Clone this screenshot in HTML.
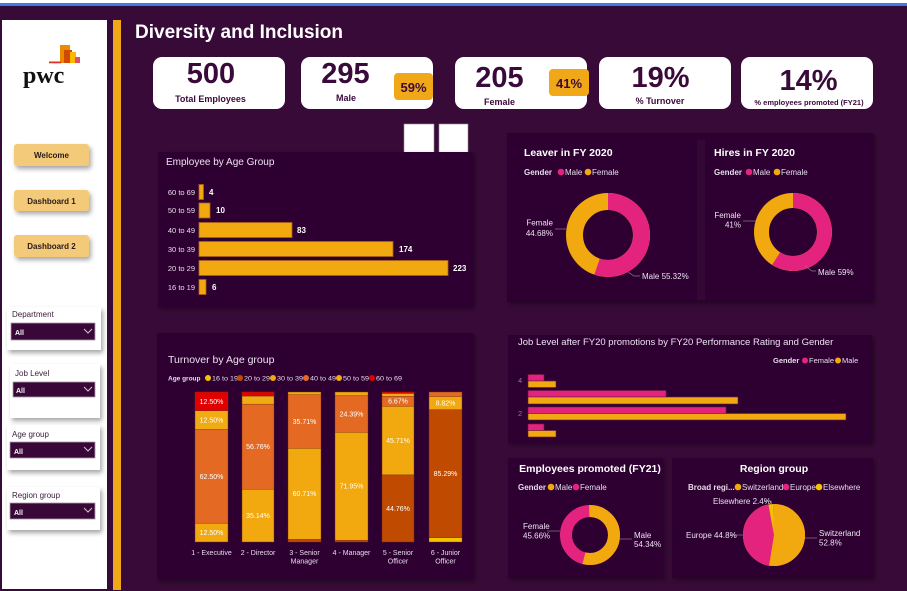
<!DOCTYPE html>
<html><head><meta charset="utf-8"><style>
html,body{margin:0;padding:0;background:#380a37;}
svg{display:block;font-family:"Liberation Sans",sans-serif;}
</style></head><body>
<svg width="907" height="591" viewBox="0 0 907 591" xmlns="http://www.w3.org/2000/svg">
<defs>
<filter id="sh" x="-20%" y="-20%" width="150%" height="160%"><feDropShadow dx="2" dy="3" stdDeviation="2.5" flood-color="#000" flood-opacity="0.35"/></filter>
<filter id="sh2" x="-10%" y="-10%" width="130%" height="130%"><feDropShadow dx="2" dy="2" stdDeviation="2" flood-color="#000" flood-opacity="0.4"/></filter>
</defs>
<rect x="0" y="0" width="907" height="591" fill="#380a37"/>
<rect x="0" y="0" width="907" height="3" fill="#ffffff"/>
<rect x="0" y="3" width="907" height="3" fill="#3b7ddd"/>

<!-- sidebar -->
<rect x="2" y="20" width="105" height="569" fill="#ffffff"/>
<rect x="113" y="20" width="8" height="570" fill="#f0a818"/>
<!-- logo -->
<rect x="60" y="45" width="10" height="18" fill="#eb8c00"/>
<rect x="64" y="50" width="8" height="13" fill="#d04a02"/>
<rect x="70" y="52" width="6" height="11" fill="#ffb600"/>
<rect x="75" y="57" width="5" height="6" fill="#db536a"/>
<rect x="49" y="61.5" width="12" height="1.8" fill="#e0301e"/>
<text x="23" y="83" font-family="'Liberation Serif',serif" font-weight="bold" font-size="24" fill="#111">pwc</text>

<!-- buttons -->
<g filter="url(#sh)">
<rect x="14" y="144" width="75" height="22" rx="3" fill="#f3c97a"/>
<rect x="14" y="190" width="75" height="21" rx="3" fill="#f3c97a"/>
<rect x="14" y="235" width="75" height="22" rx="3" fill="#f3c97a"/>
</g>
<g font-weight="bold" font-size="8" fill="#2a1a1a" text-anchor="middle">
<text x="51.5" y="158">Welcome</text>
<text x="51.5" y="204">Dashboard 1</text>
<text x="51.5" y="249">Dashboard 2</text>
</g>

<!-- filters -->
<g filter="url(#sh)">
<rect x="7" y="307" width="94" height="43" fill="#fff"/>
<rect x="10" y="364" width="90" height="54" fill="#fff"/>
<rect x="7" y="425" width="93" height="45" fill="#fff"/>
<rect x="7" y="487" width="93" height="43" fill="#fff"/>
</g>
<g font-size="8" fill="#3a1a3a">
<text x="12" y="317">Department</text>
<text x="15" y="376">Job Level</text>
<text x="12" y="437">Age group</text>
<text x="12" y="498">Region group</text>
</g>
<g fill="#3a0838" stroke="#a89aa8" stroke-width="0.8">
<rect x="11" y="323" width="84" height="17"/>
<rect x="13" y="382" width="82" height="15"/>
<rect x="10" y="442" width="85" height="16"/>
<rect x="10" y="503" width="85" height="16"/>
</g>
<g font-size="7" font-weight="bold" fill="#fff">
<text x="15" y="335">All</text>
<text x="16" y="393">All</text>
<text x="14" y="454">All</text>
<text x="14" y="515">All</text>
</g>
<g fill="none" stroke="#cfc3cf" stroke-width="1">
<polyline points="84,329 88,333 92,329"/>
<polyline points="84,387 88,391 92,387"/>
<polyline points="84,447 88,451 92,447"/>
<polyline points="84,508 88,512 92,508"/>
</g>

<!-- title -->
<text x="135" y="38" font-weight="bold" font-size="19" fill="#ffffff">Diversity and Inclusion</text>

<!-- KPI cards -->
<g fill="#ffffff">
<rect x="153" y="57" width="132" height="52" rx="9"/>
<rect x="301" y="57" width="132" height="52" rx="9"/>
<rect x="455" y="57" width="132" height="52" rx="9"/>
<rect x="599" y="57" width="132" height="52" rx="9"/>
<rect x="741" y="57" width="132" height="52" rx="9"/>
</g>
<rect x="394" y="73" width="39" height="27" rx="4" fill="#f0a818"/>
<rect x="549" y="69" width="40" height="27" rx="4" fill="#f0a818"/>
<g font-weight="bold" fill="#3a0a3a">
<text x="211" y="83" font-size="29" text-anchor="middle">500</text>
<text x="345.5" y="83" font-size="29" text-anchor="middle">295</text>
<text x="499.5" y="87" font-size="29" text-anchor="middle">205</text>
<text x="660.5" y="87" font-size="29" text-anchor="middle">19%</text>
<text x="808.5" y="90" font-size="29" text-anchor="middle">14%</text>
<text x="210.5" y="102" font-size="9" text-anchor="middle">Total Employees</text>
<text x="346" y="101" font-size="9" text-anchor="middle">Male</text>
<text x="499.5" y="105" font-size="9" text-anchor="middle">Female</text>
<text x="660" y="104" font-size="9" text-anchor="middle">% Turnover</text>
<text x="809" y="105" font-size="7.5" text-anchor="middle">% employees promoted (FY21)</text>
<text x="413.5" y="92" font-size="13" text-anchor="middle">59%</text>
<text x="569" y="88" font-size="13" text-anchor="middle">41%</text>
</g>

<!-- white squares -->
<rect x="404" y="124" width="30" height="29" fill="#fff" stroke="#9a8a9a" stroke-width="0.6"/>
<rect x="439" y="124" width="29" height="29" fill="#fff" stroke="#9a8a9a" stroke-width="0.6"/>

<!-- panels -->
<g fill="#2d0530" filter="url(#sh2)">
<rect x="158" y="152" width="315" height="155"/>
<rect x="507" y="133" width="366" height="169"/>
<rect x="157" y="333" width="316" height="247"/>
<rect x="508" y="335" width="364" height="108"/>
<rect x="508" y="458" width="155" height="120"/>
<rect x="672" y="458" width="201" height="120"/>
</g>
<rect x="697" y="140" width="8" height="160" fill="#330834"/>

<!-- Employee by Age Group -->
<text x="166" y="165" font-size="10" fill="#ece2ef">Employee by Age Group</text>
<g font-size="7.5" fill="#e6dcea" text-anchor="end">
<text x="195" y="195">60 to 69</text>
<text x="195" y="213">50 to 59</text>
<text x="195" y="233">40 to 49</text>
<text x="195" y="252">30 to 39</text>
<text x="195" y="271">20 to 29</text>
<text x="195" y="290">16 to 19</text>
</g>
<g fill="#f2a90f" stroke="#a8601a" stroke-width="0.8">
<rect x="199" y="184.5" width="4.5" height="15"/>
<rect x="199" y="203" width="11" height="15"/>
<rect x="199" y="222.5" width="93" height="15"/>
<rect x="199" y="241.5" width="194" height="15"/>
<rect x="199" y="260.5" width="249" height="15"/>
<rect x="199" y="279.5" width="7" height="15"/>
</g>
<g font-size="8" font-weight="bold" fill="#fff">
<text x="209" y="195">4</text>
<text x="216" y="213">10</text>
<text x="297" y="233">83</text>
<text x="399" y="252">174</text>
<text x="453" y="271">223</text>
<text x="212" y="290">6</text>
</g>

<!-- Leaver / Hires -->
<g font-weight="bold" font-size="10.5" fill="#fff">
<text x="524" y="156">Leaver in FY 2020</text>
<text x="714" y="156">Hires in FY 2020</text>
</g>
<g font-size="8" fill="#e6dcea">
<text x="524" y="175" font-weight="bold">Gender</text>
<circle cx="561" cy="172" r="3.3" fill="#e4237f"/><text x="565" y="175">Male</text>
<circle cx="588" cy="172" r="3.3" fill="#f2a90f"/><text x="592" y="175">Female</text>
<text x="714" y="175" font-weight="bold">Gender</text>
<circle cx="749" cy="172" r="3.3" fill="#e4237f"/><text x="753" y="175">Male</text>
<circle cx="777" cy="172" r="3.3" fill="#f2a90f"/><text x="781" y="175">Female</text>
</g>
<circle cx="608" cy="235" r="33.5" fill="none" stroke="#f2a90f" stroke-width="17"/>
<circle cx="608" cy="235" r="33.5" fill="none" stroke="#e4237f" stroke-width="17" pathLength="100" stroke-dasharray="55.32 44.68" transform="rotate(-90 608 235)"/>
<circle cx="793" cy="232" r="31.5" fill="none" stroke="#f2a90f" stroke-width="15"/>
<circle cx="793" cy="232" r="31.5" fill="none" stroke="#e4237f" stroke-width="15" pathLength="100" stroke-dasharray="59 41" transform="rotate(-90 793 232)"/>
<g stroke="#8a7a8a" stroke-width="0.7" fill="none">
<polyline points="555,229 566,229"/>
<polyline points="628,272 634,276 640,276"/>
<polyline points="743,221 756,221"/>
<polyline points="805,266 812,271 816,271"/>
</g>
<g font-size="8" fill="#ece2ef">
<text x="553" y="225.5" text-anchor="end">Female</text>
<text x="553" y="236" text-anchor="end">44.68%</text>
<text x="642" y="279">Male 55.32%</text>
<text x="741" y="218" text-anchor="end">Female</text>
<text x="741" y="227.5" text-anchor="end">41%</text>
<text x="818" y="275">Male 59%</text>
</g>

<!-- Turnover by Age group -->
<text x="168" y="363" font-size="10.5" fill="#ece2ef">Turnover by Age group</text>
<g font-size="6.5" fill="#e6dcea">
<text x="168" y="380.5" font-weight="bold">Age group</text>
<circle cx="208" cy="378" r="3" fill="#f5c400"/><text x="212" y="380.5" textLength="26" lengthAdjust="spacingAndGlyphs">16 to 19</text>
<circle cx="240" cy="378" r="3" fill="#c04a00"/><text x="244" y="380.5" textLength="26" lengthAdjust="spacingAndGlyphs">20 to 29</text>
<circle cx="273" cy="378" r="3" fill="#f2a90f"/><text x="277" y="380.5" textLength="26" lengthAdjust="spacingAndGlyphs">30 to 39</text>
<circle cx="306" cy="378" r="3" fill="#e46a24"/><text x="310" y="380.5" textLength="26" lengthAdjust="spacingAndGlyphs">40 to 49</text>
<circle cx="339" cy="378" r="3" fill="#f0aa12"/><text x="343" y="380.5" textLength="26" lengthAdjust="spacingAndGlyphs">50 to 59</text>
<circle cx="372" cy="378" r="3" fill="#e00000"/><text x="376" y="380.5" textLength="26" lengthAdjust="spacingAndGlyphs">60 to 69</text>
</g>
<g stroke="#7a3010" stroke-width="0.4">
<!-- Executive -->
<rect x="195" y="523.25" width="33" height="18.75" fill="#f2a90f"/>
<rect x="195" y="429.5" width="33" height="93.75" fill="#e46a24"/>
<rect x="195" y="410.75" width="33" height="18.75" fill="#f0aa12"/>
<rect x="195" y="392" width="33" height="18.75" fill="#e00000"/>
<!-- Director -->
<rect x="242" y="489.29" width="32" height="52.71" fill="#f2a90f"/>
<rect x="242" y="404.15" width="32" height="85.14" fill="#e46a24"/>
<rect x="242" y="396.05" width="32" height="8.1" fill="#f0aa12"/>
<rect x="242" y="392" width="32" height="4.05" fill="#e00000"/>
<!-- Senior Manager -->
<rect x="288" y="539.32" width="33" height="2.68" fill="#c04a00"/>
<rect x="288" y="448.25" width="33" height="91.07" fill="#f2a90f"/>
<rect x="288" y="394.68" width="33" height="53.57" fill="#e46a24"/>
<rect x="288" y="392" width="33" height="2.68" fill="#f0aa12"/>
<!-- Manager -->
<rect x="335" y="540.17" width="33" height="1.83" fill="#c04a00"/>
<rect x="335" y="432.24" width="33" height="107.93" fill="#f2a90f"/>
<rect x="335" y="395.65" width="33" height="36.59" fill="#e46a24"/>
<rect x="335" y="392" width="33" height="3.65" fill="#f0aa12"/>
<!-- Senior Officer -->
<rect x="382" y="474.86" width="32" height="67.14" fill="#c04a00"/>
<rect x="382" y="406.29" width="32" height="68.57" fill="#f2a90f"/>
<rect x="382" y="396.29" width="32" height="10" fill="#e46a24"/>
<rect x="382" y="393.43" width="32" height="2.86" fill="#f0aa12"/>
<rect x="382" y="392" width="32" height="1.43" fill="#e00000"/>
<!-- Junior Officer -->
<rect x="429" y="537.59" width="33" height="4.41" fill="#f5c400"/>
<rect x="429" y="409.65" width="33" height="127.94" fill="#c04a00"/>
<rect x="429" y="396.42" width="33" height="13.23" fill="#f2a90f"/>
<rect x="429" y="392" width="33" height="4.42" fill="#e46a24"/>
</g>
<g font-size="7" fill="#fff" text-anchor="middle">
<text x="211.5" y="403.8">12.50%</text>
<text x="211.5" y="422.5">12.50%</text>
<text x="211.5" y="478.8">62.50%</text>
<text x="211.5" y="535">12.50%</text>
<text x="258" y="449">56.76%</text>
<text x="258" y="518">35.14%</text>
<text x="304.5" y="424">35.71%</text>
<text x="304.5" y="496">60.71%</text>
<text x="351.5" y="416.3">24.39%</text>
<text x="351.5" y="488.6">71.95%</text>
<text x="398" y="403.7">6.67%</text>
<text x="398" y="443">45.71%</text>
<text x="398" y="510.8">44.76%</text>
<text x="445.5" y="405.5">8.82%</text>
<text x="445.5" y="476">85.29%</text>
</g>
<g font-size="7" fill="#e6dcea" text-anchor="middle">
<text x="211.5" y="555">1 - Executive</text>
<text x="258" y="555">2 - Director</text>
<text x="304.5" y="555">3 - Senior</text>
<text x="304.5" y="563.5">Manager</text>
<text x="351.5" y="555">4 - Manager</text>
<text x="398" y="555">5 - Senior</text>
<text x="398" y="563.5">Officer</text>
<text x="445.5" y="555">6 - Junior</text>
<text x="445.5" y="563.5">Officer</text>
</g>

<!-- Job level -->
<text x="518" y="345" font-size="9.5" fill="#ece2ef">Job Level after FY20 promotions by FY20 Performance Rating and Gender</text>
<g font-size="7.5" fill="#e6dcea">
<text x="773" y="363" font-weight="bold">Gender</text>
<circle cx="805" cy="360.5" r="3" fill="#e4237f"/><text x="809" y="363">Female</text>
<circle cx="838" cy="360.5" r="3" fill="#f2a90f"/><text x="842" y="363">Male</text>
</g>
<g font-size="7.5" fill="#8a7a8a">
<text x="518" y="383">4</text>
<text x="518" y="416">2</text>
</g>
<g stroke="#6a1a3a" stroke-width="0.6">
<rect x="528" y="374.5" width="16" height="6.5" fill="#e4237f"/>
<rect x="528" y="381" width="28" height="6.5" fill="#f2a90f"/>
<rect x="528" y="390.5" width="138" height="6.5" fill="#e4237f"/>
<rect x="528" y="397" width="210" height="7" fill="#f2a90f"/>
<rect x="528" y="407" width="198" height="6.5" fill="#e4237f"/>
<rect x="528" y="413.5" width="318" height="6.5" fill="#f2a90f"/>
<rect x="528" y="424" width="16" height="6.5" fill="#e4237f"/>
<rect x="528" y="430.5" width="28" height="6.5" fill="#f2a90f"/>
</g>

<!-- Employees promoted -->
<text x="590" y="472" font-size="10.5" font-weight="bold" fill="#fff" text-anchor="middle">Employees promoted (FY21)</text>
<g font-size="8" fill="#e6dcea">
<text x="518" y="490" font-weight="bold">Gender</text>
<circle cx="551" cy="487" r="3.3" fill="#f2a90f"/><text x="555" y="490">Male</text>
<circle cx="576" cy="487" r="3.3" fill="#e4237f"/><text x="580" y="490">Female</text>
</g>
<circle cx="590" cy="535" r="24" fill="none" stroke="#e4237f" stroke-width="12"/>
<circle cx="590" cy="535" r="24" fill="none" stroke="#f2a90f" stroke-width="12" pathLength="100" stroke-dasharray="54.34 45.66" transform="rotate(-90 590 535)"/>
<g stroke="#8a7a8a" stroke-width="0.7" fill="none">
<polyline points="547,531 560,531"/>
<polyline points="620,539 632,539"/>
</g>
<g font-size="8" fill="#ece2ef">
<text x="523" y="529">Female</text>
<text x="523" y="538.5">45.66%</text>
<text x="634" y="538">Male</text>
<text x="634" y="547">54.34%</text>
</g>

<!-- Region group -->
<text x="774" y="472" font-size="10.5" font-weight="bold" fill="#fff" text-anchor="middle">Region group</text>
<g font-size="8" fill="#e6dcea">
<text x="688" y="490" font-weight="bold">Broad regi...</text>
<circle cx="738" cy="487" r="3.3" fill="#f2a90f"/><text x="742" y="490">Switzerland</text>
<circle cx="786" cy="487" r="3.3" fill="#e4237f"/><text x="790" y="490">Europe</text>
<circle cx="819" cy="487" r="3.3" fill="#f5c400"/><text x="823" y="490">Elsewhere</text>
</g>
<circle cx="774" cy="535" r="15.5" fill="none" stroke="#f5c400" stroke-width="31"/>
<circle cx="774" cy="535" r="15.5" fill="none" stroke="#e4237f" stroke-width="31" pathLength="100" stroke-dasharray="97.6 2.4" transform="rotate(-90 774 535)"/>
<circle cx="774" cy="535" r="15.5" fill="none" stroke="#f2a90f" stroke-width="31" pathLength="100" stroke-dasharray="52.8 47.2" transform="rotate(-90 774 535)"/>
<g stroke="#8a7a8a" stroke-width="0.7" fill="none">
<polyline points="764,501 771,501 772,505"/>
<polyline points="730,535 743,535"/>
<polyline points="805,538 817,538"/>
</g>
<g font-size="8" fill="#ece2ef">
<text x="713" y="504">Elsewhere 2.4%</text>
<text x="686" y="538">Europe 44.8%</text>
<text x="819" y="536">Switzerland</text>
<text x="819" y="545.5">52.8%</text>
</g>
</svg>
</body></html>
